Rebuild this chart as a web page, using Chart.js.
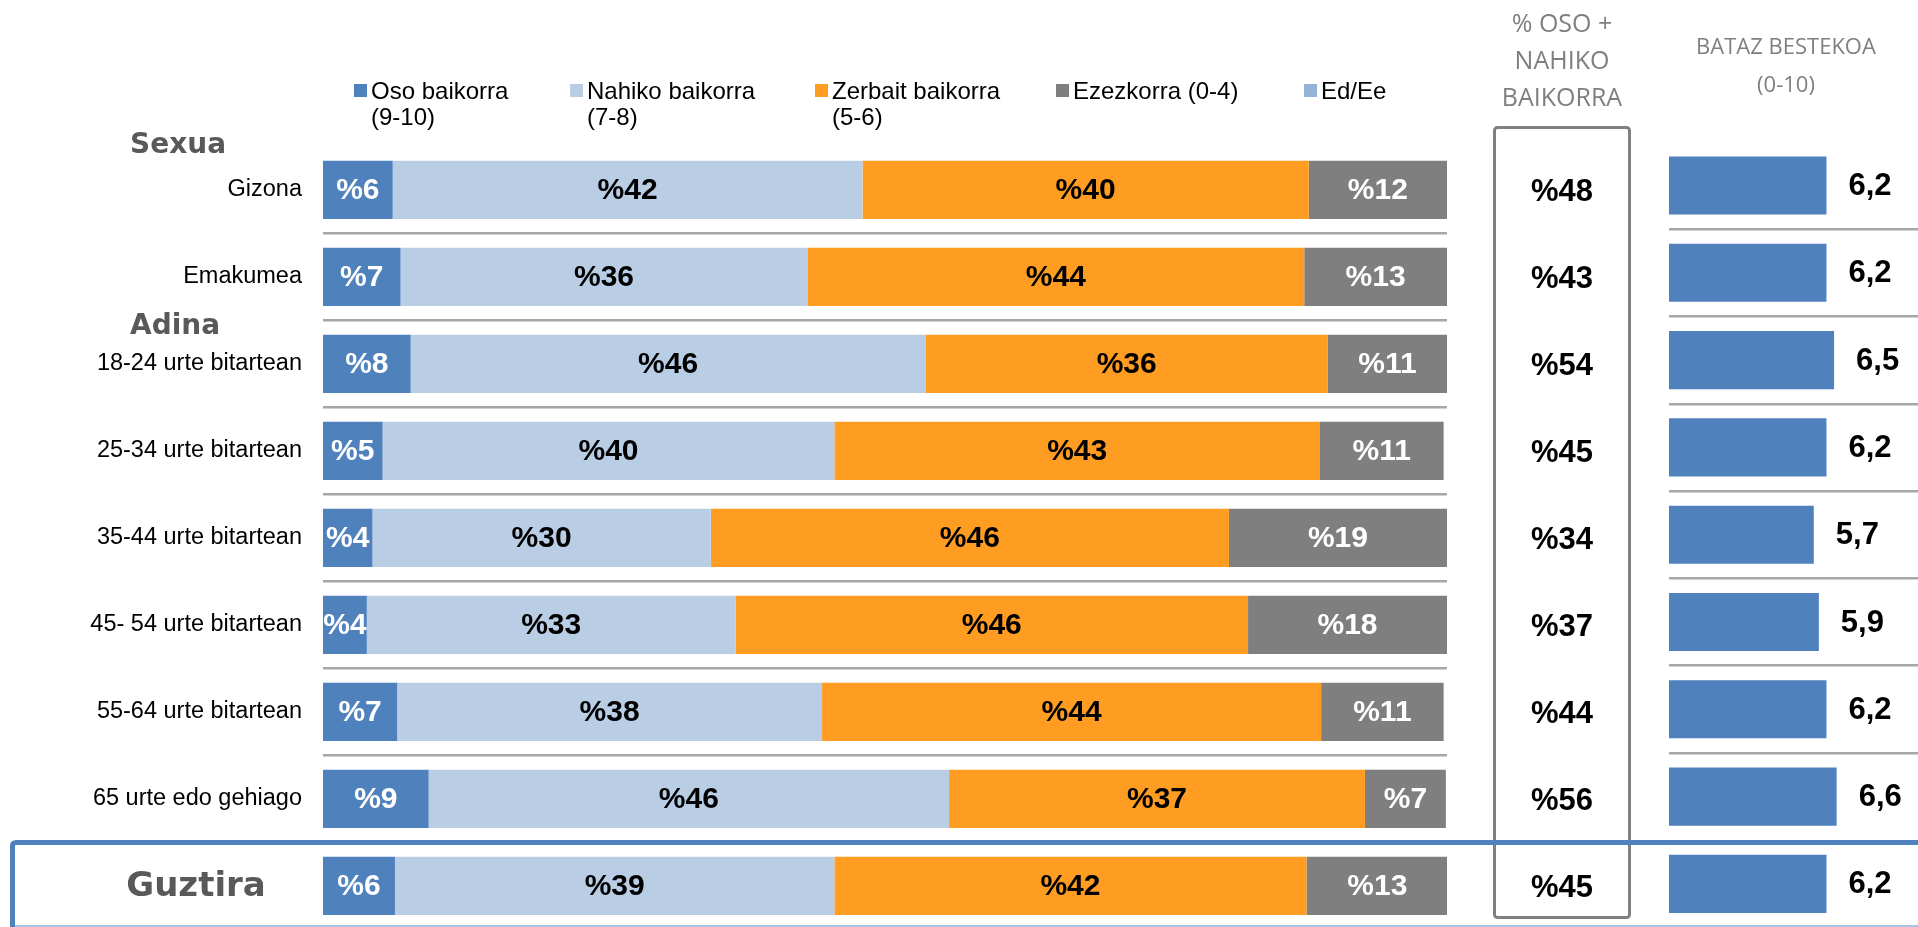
<!DOCTYPE html>
<html>
<head>
<meta charset="utf-8">
<title>Baikortasuna</title>
<script src="https://cdn.jsdelivr.net/npm/chart.js@4.4.1/dist/chart.umd.min.js"></script>
<style>
    html, body { margin: 0; padding: 0; background: #fff; overflow: hidden; width: 1918px; height: 927px; }
    #main { position: absolute; left: 0; top: 0; }
    #avg { position: absolute; left: 1460px; top: 0; }
</style>
</head>
<body>
<canvas id="main" width="1918" height="980"></canvas>
<canvas id="avg" width="470" height="940"></canvas>
<script>
/* Stacked bars (left), % oso + nahiko column (middle), average bars (right) */

const CATEGORIES = [
    'Gizona', 'Emakumea', '18-24 urte bitartean', '25-34 urte bitartean', '35-44 urte bitartean',
    '45- 54 urte bitartean', '55-64 urte bitartean', '65 urte edo gehiago', 'Guztira'
];
const SERIES = ['Oso baikorra\n(9-10)', 'Nahiko baikorra\n(7-8)', 'Zerbait baikorra\n(5-6)', 'Ezezkorra (0-4)', 'Ed/Ee'];

const OSO       = [6.2, 6.9, 7.8, 5.3, 4.4, 3.9, 6.6, 9.4, 6.4];
const NAHIKO    = [41.8, 36.2, 45.8, 40.2, 30.1, 32.8, 37.8, 46.3, 39.1];
const ZERBAIT   = [39.7, 44.2, 35.8, 43.2, 46.1, 45.6, 44.4, 37.0, 42.0];
const EZEZKORRA = [12.3, 12.7, 10.6, 11.0, 19.4, 17.7, 10.9, 7.2, 12.6];
const ED_EE     = [0, 0, 0, 0, 0, 0, 0, 0, 0];

const OSO_NAHIKO = [48, 43, 54, 45, 34, 37, 44, 56, 45];
const BATAZ      = [6.2, 6.2, 6.5, 6.2, 5.7, 5.9, 6.2, 6.6, 6.2];

const GROUPS = [['Sexua', 0], ['Adina', 2]];
const HEADER_TOTAL = ['% OSO +', 'NAHIKO', 'BAIKORRA'];
const HEADER_AVG = ['BATAZ BESTEKOA', '(0-10)'];

const COLORS = ['#4f81bd', '#b9cde5', '#ff9d22', '#7f7f7f', '#95b3d7'];
const LABEL_COLORS = ['#ffffff', '#000000', '#000000', '#ffffff', '#000000'];

const FONT = '"Liberation Sans", Arial, sans-serif';
const HEAD_FONT = '"DejaVu Sans", sans-serif';
const LEGEND_X = [354, 570, 815, 1056, 1304];
const GROUP_DY = [-44, -37];
const TOTAL_X = 1562;
const AVG_X = 1786;

Chart.defaults.font.family = FONT;

const rowGrid = {
    display: true,
    drawTicks: false,
    lineWidth: 2.5,
    color: ctx => (ctx.index >= 1 && ctx.index <= 7) ? '#a6a6a6' : 'rgba(0,0,0,0)',
};

// labels inside the stacked segments
const segLabels = {
    id: 'segLabels',
    afterDatasetsDraw(chart) {
        const ctx = chart.ctx;
        ctx.save();
        ctx.font = 'bold 30px ' + FONT;
        ctx.textAlign = 'center';
        ctx.textBaseline = 'middle';
        chart.data.datasets.forEach((ds, i) => {
            chart.getDatasetMeta(i).data.forEach((bar, j) => {
                const v = ds.data[j];
                if (!v) return;
                const c = bar.getCenterPoint();
                ctx.fillStyle = LABEL_COLORS[i];
                ctx.fillText('%' + Math.round(v), c.x, c.y + 1);
            });
        });
        ctx.restore();
    }
};

// legend, group headings, middle column, frames
const decorations = {
    id: 'decorations',
    afterDraw(chart) {
        const ctx = chart.ctx;
        const y = chart.scales.y;
        ctx.save();

        // legend
        ctx.font = '24px ' + FONT;
        ctx.textBaseline = 'middle';
        ctx.textAlign = 'left';
        chart.data.datasets.forEach((ds, i) => {
            const x = LEGEND_X[i];
            ctx.fillStyle = ds.backgroundColor;
            ctx.fillRect(x, 84, 13, 13);
            ctx.fillStyle = '#000';
            ds.label.split('\n').forEach((line, j) => ctx.fillText(line, x + 17, 92 + j * 26));
        });

        // group headings
        ctx.fillStyle = '#595959';
        ctx.font = 'bold 28px ' + HEAD_FONT;
        GROUPS.forEach(([name, idx], k) => ctx.fillText(name, 130, y.getPixelForValue(idx) + GROUP_DY[k]));

        // total row label
        const last = CATEGORIES.length - 1;
        ctx.font = 'bold 34px ' + HEAD_FONT;
        ctx.textAlign = 'center';
        ctx.fillText(CATEGORIES[last], 196, y.getPixelForValue(last) + 1);

        // column headers
        ctx.fillStyle = '#7f7f7f';
        ctx.font = '25px "Open Sans", sans-serif';
        HEADER_TOTAL.forEach((t, j) => ctx.fillText(t, TOTAL_X, 25 + j * 37));
        ctx.font = '22px "Open Sans", sans-serif';
        HEADER_AVG.forEach((t, j) => ctx.fillText(t, AVG_X, 48 + j * 38));

        // box around the middle column
        ctx.strokeStyle = '#808080';
        ctx.lineWidth = 3;
        ctx.beginPath();
        ctx.roundRect(1494.5, 127.5, 135, 790, 3);
        ctx.stroke();

        // middle column values
        ctx.fillStyle = '#000';
        ctx.font = 'bold 31px ' + FONT;
        OSO_NAHIKO.forEach((v, i) => ctx.fillText('%' + v, TOTAL_X, y.getPixelForValue(i) + 3));

        // frame around the total row
        ctx.strokeStyle = '#4f81bd';
        ctx.lineWidth = 5;
        ctx.beginPath();
        ctx.moveTo(1930, 842.5);
        ctx.lineTo(15, 842.5);
        ctx.arcTo(12.5, 842.5, 12.5, 846, 3);
        ctx.lineTo(12.5, 980);
        ctx.stroke();
        ctx.strokeStyle = '#a9c3e3';
        ctx.lineWidth = 2;
        ctx.beginPath();
        ctx.moveTo(15, 926);
        ctx.lineTo(1918, 926);
        ctx.stroke();

        ctx.restore();
    }
};

new Chart(document.getElementById('main').getContext('2d'), {
    type: 'bar',
    data: {
        labels: CATEGORIES,
        datasets: [OSO, NAHIKO, ZERBAIT, EZEZKORRA, ED_EE].map((d, i) => ({
            label: SERIES[i],
            data: d,
            backgroundColor: COLORS[i],
            borderWidth: 0,
            barPercentage: 0.67,
            categoryPercentage: 1,
        })),
    },
    options: {
        indexAxis: 'y',
        responsive: false,
        animation: false,
        layout: { padding: { left: 0, right: 471, top: 146.4, bottom: 50.6 } },
        plugins: { legend: { display: false }, tooltip: { enabled: false } },
        scales: {
            x: { stacked: true, min: 0, max: 100, display: false },
            y: {
                stacked: true,
                border: { display: false },
                grid: rowGrid,
                ticks: {
                    color: '#000',
                    padding: 21,
                    font: { size: 23.5 },
                    callback: (v, i) => i === CATEGORIES.length - 1 ? '' : CATEGORIES[i],
                },
                afterFit: scale => { scale.width = 323; },
            },
        },
    },
    plugins: [segLabels, decorations],
});

// average (0-10) bars
const avgLabels = {
    id: 'avgLabels',
    afterDatasetsDraw(chart) {
        const ctx = chart.ctx;
        ctx.save();
        ctx.font = 'bold 31px ' + FONT;
        ctx.fillStyle = '#000';
        ctx.textAlign = 'left';
        ctx.textBaseline = 'middle';
        chart.getDatasetMeta(0).data.forEach((bar, j) => {
            ctx.fillText(BATAZ[j].toFixed(1).replace('.', ','), bar.x + 22, bar.y + 1);
        });
        ctx.restore();
    }
};

new Chart(document.getElementById('avg').getContext('2d'), {
    type: 'bar',
    data: {
        labels: CATEGORIES,
        datasets: [{
            label: 'Bataz bestekoa (0-10)',
            data: BATAZ,
            backgroundColor: '#4f81bd',
            borderWidth: 0,
            barPercentage: 0.665,
            categoryPercentage: 1,
        }],
    },
    options: {
        indexAxis: 'y',
        responsive: false,
        animation: false,
        layout: { padding: { left: 209, right: 7, top: 141.85, bottom: 12.45 } },
        plugins: { legend: { display: false }, tooltip: { enabled: false } },
        scales: {
            x: { min: 0, max: 10, display: false },
            y: {
                border: { display: false },
                grid: rowGrid,
                ticks: { display: false },
                afterFit: scale => { scale.width = 0; },
            },
        },
    },
    plugins: [avgLabels],
});
</script>
</body>
</html>
